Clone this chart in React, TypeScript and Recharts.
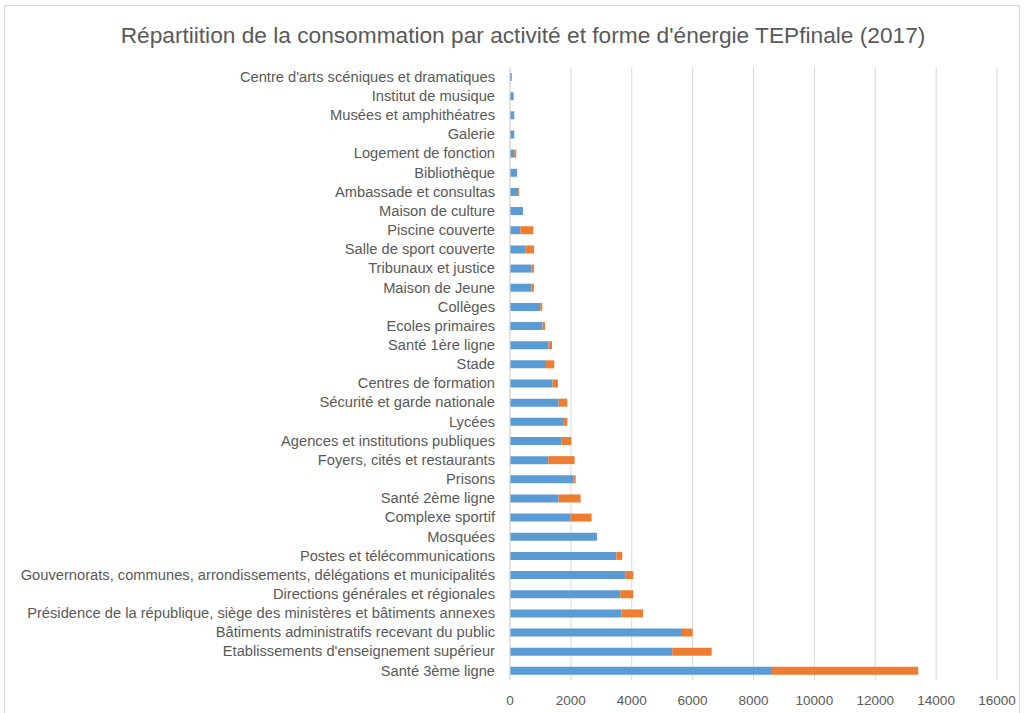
import React from 'react';
import { BarChart, Bar, XAxis, YAxis, CartesianGrid } from 'recharts';

const categories = [
  "Centre d'arts scéniques et dramatiques",
  'Institut de musique',
  'Musées et amphithéatres',
  'Galerie',
  'Logement de fonction',
  'Bibliothèque',
  'Ambassade et consultas',
  'Maison de culture',
  'Piscine couverte',
  'Salle de sport couverte',
  'Tribunaux et justice',
  'Maison de Jeune',
  'Collèges',
  'Ecoles primaires',
  'Santé 1ère ligne',
  'Stade',
  'Centres de formation',
  'Sécurité et garde nationale',
  'Lycées',
  'Agences et institutions publiques',
  'Foyers, cités et restaurants',
  'Prisons',
  'Santé 2ème ligne',
  'Complexe sportif',
  'Mosquées',
  'Postes et télécommunications',
  'Gouvernorats, communes, arrondissements, délégations et municipalités',
  'Directions générales et régionales',
  'Présidence de la république, siège  des ministères et bâtiments annexes',
  'Bâtiments administratifs recevant du public',
  "Etablissements d'enseignement supérieur",
  'Santé 3ème ligne',
];

// blue series
const electricite = [
  60, 120, 140, 140, 140, 230, 262, 427, 338, 513, 710, 710,
  995, 1072, 1269, 1182, 1401, 1598, 1741, 1697, 1259, 2090, 1598, 1992,
  2857, 3492, 3777, 3624, 3667, 5650, 5332, 8607,
];

// orange series
const autres = [
  0, 0, 0, 0, 65, 0, 33, 0, 427, 275, 80, 75,
  65, 77, 110, 273, 176, 285, 142, 317, 865, 66, 722, 690,
  0, 197, 273, 426, 702, 350, 1292, 4806,
];

const xTicks = [0, 2000, 4000, 6000, 8000, 10000, 12000, 14000, 16000];

const data = categories.map((name, i) => ({ name, a: electricite[i], b: autres[i] }));

const App: React.FC = () => {
  return (
    <div style={{ position: 'absolute', left: 0, top: 0, width: 1024, height: 713, background: '#fff', overflow: 'hidden' }}>
      <div style={{ position: 'absolute', left: 4, top: 5, width: 1014, height: 740, border: '1px solid #d9d9d9' }} />
      <div
        style={{
          position: 'absolute', left: 0, top: 22, width: 1046, textAlign: 'center',
          fontFamily: '"Liberation Sans", Arial, sans-serif', fontSize: 22.7, color: '#595959',
          whiteSpace: 'nowrap',
        }}
      >
        Répartiition de la consommation par activité et forme d'énergie TEPfinale (2017)
      </div>
      <div style={{ position: 'absolute', left: 0, top: 0 }}>
        <BarChart
          width={1024}
          height={713}
          data={data}
          layout="vertical"
          margin={{ top: 67, right: 27, bottom: 7, left: 0 }}
          barSize={8}
          style={{ fontFamily: '"Liberation Sans", Arial, sans-serif' }}
        >
          <CartesianGrid horizontal={false} stroke="#d9d9d9" />
          <XAxis
            type="number"
            domain={[0, 16000]}
            ticks={xTicks}
            axisLine={false}
            tickLine={false}
            tickSize={0}
            tickMargin={15}
            height={26}
            tick={{ fill: '#595959', fontSize: 13.5 }}
            interval={0}
          />
          <YAxis
            type="category"
            dataKey="name"
            width={510}
            axisLine={{ stroke: '#d9d9d9' }}
            tickLine={false}
            tickSize={0}
            tickMargin={15}
            interval={0}
            tick={{ fill: '#595959', fontSize: 14.7 }}
          />
          <Bar dataKey="a" stackId="s" fill="#5b9bd5" isAnimationActive={false} />
          <Bar dataKey="b" stackId="s" fill="#ed7d31" isAnimationActive={false} />
        </BarChart>
      </div>
    </div>
  );
};

export default App;
